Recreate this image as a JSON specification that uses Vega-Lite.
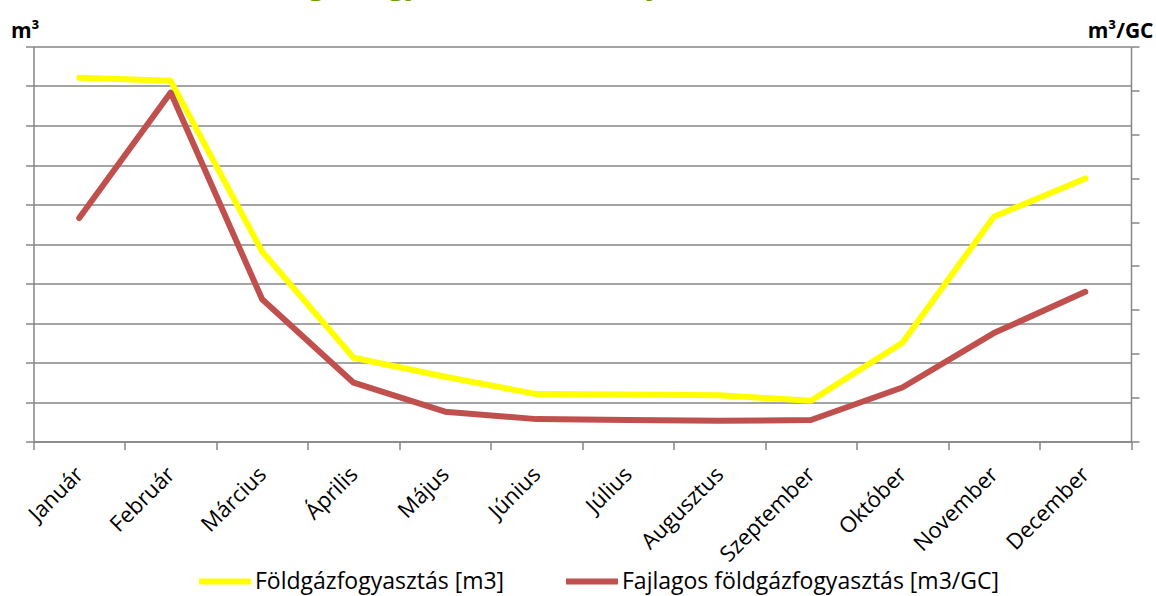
{
  "$schema": "https://vega.github.io/schema/vega-lite/v6.json",
  "width": 1097.5,
  "height": 395,
  "autosize": {"type": "none"},
  "padding": {"left": 33.5, "top": 46.5, "right": 25, "bottom": 154.5},
  "background": "white",
  "title": {
    "text": "Földgázfogyasztás az év folyamán",
    "anchor": "start",
    "frame": "group",
    "dx": 211,
    "offset": 0,
    "dy": 4,
    "baseline": "alphabetic",
    "font": "Open Sans",
    "fontSize": 30,
    "fontWeight": "bold",
    "color": "#6a9f00"
  },
  "config": {
    "view": {"stroke": null},
    "font": "Open Sans",
    "axis": {
      "domainColor": "#868686",
      "domainWidth": 1.5,
      "tickColor": "#868686",
      "tickWidth": 1.5,
      "gridColor": "#868686",
      "gridWidth": 1.5,
      "gridOpacity": 1
    }
  },
  "data": {
    "values": [
      {"honap": "Január", "gaz": 92.1, "fajl": 5.09},
      {"honap": "Február", "gaz": 91.3, "fajl": 7.95},
      {"honap": "Március", "gaz": 48.1, "fajl": 3.24},
      {"honap": "Április", "gaz": 21.2, "fajl": 1.34},
      {"honap": "Május", "gaz": 16.4, "fajl": 0.68},
      {"honap": "Június", "gaz": 12.0, "fajl": 0.51},
      {"honap": "Július", "gaz": 11.9, "fajl": 0.49},
      {"honap": "Augusztus", "gaz": 11.7, "fajl": 0.47},
      {"honap": "Szeptember", "gaz": 10.3, "fajl": 0.49},
      {"honap": "Október", "gaz": 25.0, "fajl": 1.23},
      {"honap": "November", "gaz": 56.9, "fajl": 2.47},
      {"honap": "December", "gaz": 66.6, "fajl": 3.41}
    ]
  },
  "encoding": {
    "x": {
      "field": "honap",
      "type": "nominal",
      "sort": null,
      "scale": {"paddingInner": 0, "paddingOuter": 0},
      "axis": {
        "title": null,
        "tickBand": "extent",
        "tickSize": 8,
        "labelAngle": -45,
        "labelAlign": "right",
        "labelBaseline": "middle",
        "labelPadding": 21,
        "labelFontSize": 22,
        "labelColor": "#000000",
        "labelFont": "Open Sans",
        "grid": false
      }
    }
  },
  "layer": [
    {
      "mark": {"type": "line", "strokeWidth": 6, "strokeCap": "round", "strokeJoin": "round"},
      "encoding": {
        "y": {
          "field": "gaz",
          "type": "quantitative",
          "scale": {"domain": [0, 100], "nice": false, "zero": true},
          "axis": {
            "orient": "left",
            "values": [0, 10, 20, 30, 40, 50, 60, 70, 80, 90, 100],
            "labels": false,
            "grid": true,
            "tickSize": 8,
            "title": "m³",
            "titleAngle": 0,
            "titleX": -23,
            "titleY": -9.5,
            "titleAlign": "left",
            "titleBaseline": "alphabetic",
            "titleFont": "Open Sans",
            "titleFontSize": 21,
            "titleFontWeight": "bold",
            "titleColor": "#000000"
          }
        },
        "color": {
          "datum": "Földgázfogyasztás [m3]",
          "scale": {
            "domain": ["Földgázfogyasztás [m3]", "Fajlagos földgázfogyasztás [m3/GC]"],
            "range": ["#FFFF00", "#C0504D"]
          },
          "legend": {
            "title": null,
            "orient": "none",
            "direction": "horizontal",
            "legendX": 162.5,
            "legendY": 506,
            "symbolType": "stroke",
            "symbolSize": 2704,
            "symbolStrokeWidth": 6,
            "labelFontSize": 23,
            "labelFont": "Open Sans",
            "labelColor": "#000000",
            "labelOffset": 1,
            "columnPadding": 49,
            "labelLimit": 600
          }
        }
      }
    },
    {
      "mark": {"type": "line", "strokeWidth": 6, "strokeCap": "round", "strokeJoin": "round"},
      "encoding": {
        "y": {
          "field": "fajl",
          "type": "quantitative",
          "scale": {"domain": [0, 9], "nice": false, "zero": true},
          "axis": {
            "orient": "right",
            "values": [0, 1, 2, 3, 4, 5, 6, 7, 8, 9],
            "labels": false,
            "grid": false,
            "tickSize": 8,
            "title": "m³/GC",
            "titleAngle": 0,
            "titleX": 22,
            "titleY": -9.5,
            "titleAlign": "right",
            "titleBaseline": "alphabetic",
            "titleFont": "Open Sans",
            "titleFontSize": 21,
            "titleFontWeight": "bold",
            "titleColor": "#000000"
          }
        },
        "color": {"datum": "Fajlagos földgázfogyasztás [m3/GC]"}
      }
    }
  ],
  "resolve": {"scale": {"y": "independent"}}
}
